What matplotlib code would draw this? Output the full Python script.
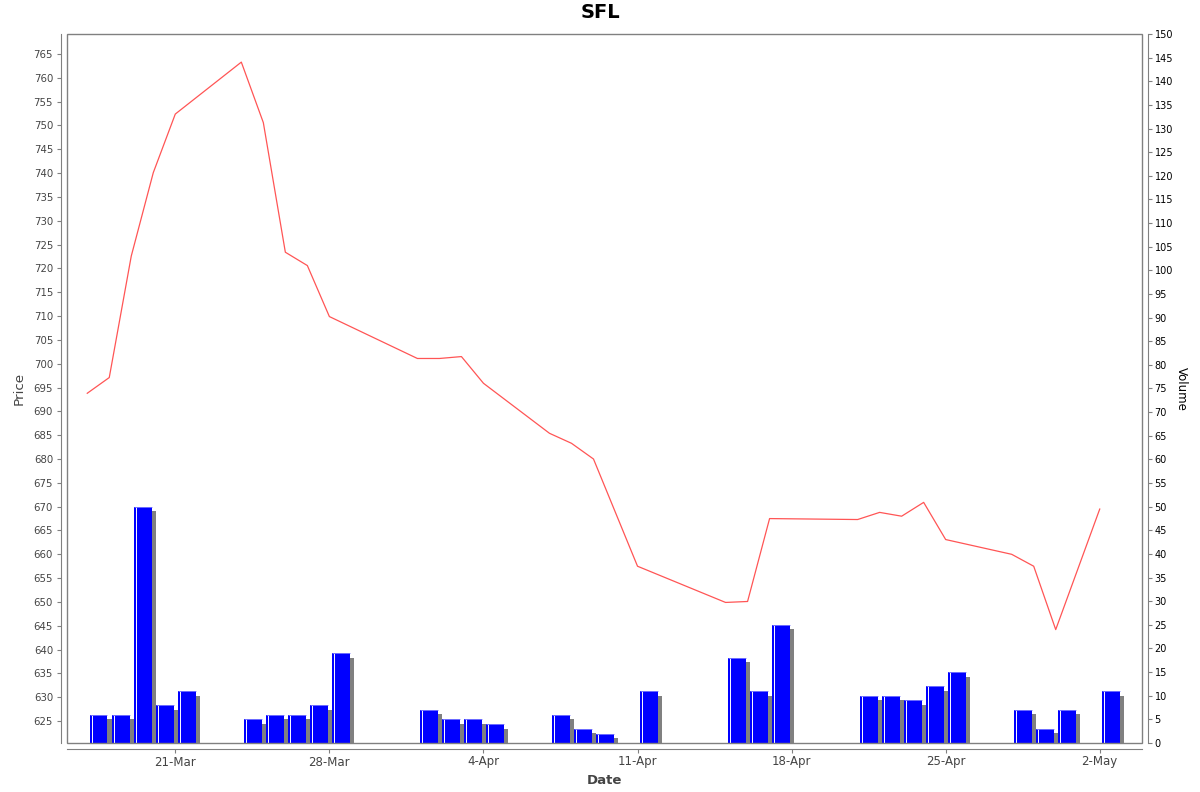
import numpy as np
import pandas as pd
import matplotlib
matplotlib.use('Agg')
import matplotlib.pyplot as plt
import matplotlib.dates as mdates
from matplotlib.patches import Rectangle
from matplotlib.transforms import ScaledTranslation


dates = ['2025-03-17', '2025-03-18', '2025-03-19', '2025-03-20', '2025-03-21',
         '2025-03-24', '2025-03-25', '2025-03-26', '2025-03-27', '2025-03-28',
         '2025-04-01', '2025-04-02', '2025-04-03', '2025-04-04',
         '2025-04-07', '2025-04-08', '2025-04-09', '2025-04-11',
         '2025-04-15', '2025-04-16', '2025-04-17',
         '2025-04-21', '2025-04-22', '2025-04-23', '2025-04-24', '2025-04-25',
         '2025-04-28', '2025-04-29', '2025-04-30', '2025-05-02']
close = [693.8, 697.1, 722.6, 740.1, 752.4,
         763.3, 750.6, 723.4, 720.6, 709.9,
         701.1, 701.1, 701.5, 695.9,
         685.4, 683.3, 680.0, 657.5,
         649.9, 650.1, 667.5,
         667.3, 668.8, 668.0, 670.9, 663.1,
         660.0, 657.5, 644.2, 669.5]
volume = [6, 6, 50, 8, 11,
          5, 6, 6, 8, 19,
          7, 5, 5, 4,
          6, 3, 2, 11,
          18, 11, 25,
          10, 10, 9, 12, 15,
          7, 3, 7, 11]

tick_dates = ['2025-03-21', '2025-03-28', '2025-04-04', '2025-04-11',
              '2025-04-18', '2025-04-25', '2025-05-02']
tick_labels = ['21-Mar', '28-Mar', '4-Apr', '11-Apr', '18-Apr', '25-Apr', '2-May']

x = mdates.date2num(pd.to_datetime(dates))
xt = mdates.date2num(pd.to_datetime(tick_dates))

axis_grey = '#808080'
text_grey = '#444444'

fig = plt.figure(figsize=(12, 7.92), dpi=100)
ax = fig.add_axes([67 / 1200, 49 / 792, 1075 / 1200, 709 / 792])
ax2 = ax.twinx()

# volume bars with drop shadow
px = lambda dx, dy: ScaledTranslation(dx / 100, dy / 100, fig.dpi_scale_trans)
ax2.bar(x + 0.12, volume, width=0.8, align='edge', color='#808080',
        transform=ax2.transData + px(4.5, -4.5), zorder=1)
ax2.bar(x + 0.12, volume, width=0.8, align='edge', color='#0000ff',
        linewidth=0, zorder=2)
ax2.vlines(x + 0.12, 0, volume, color='white', linewidth=0.7,
           transform=ax2.transData + px(1.8, 0), zorder=3)
ax2.hlines(volume, x + 0.12, x + 0.92, color='#8080ff', linewidth=0.6, zorder=3)

# price line
ax2.set_zorder(1)
ax.set_zorder(2)
ax.patch.set_visible(False)
ax.plot(x, close, color='#ff5555', linewidth=0.9)

ax.set_xlim(x[0] - 0.92, x[-1] + 1.92)
ax.set_ylim(620.4, 769.2)
ax2.set_ylim(0, 150)

ax.set_yticks(np.arange(625, 766, 5))
ax2.set_yticks(np.arange(0, 151, 5))
ax.set_xticks(xt)
ax.set_xticklabels(tick_labels)

for a in (ax, ax2):
    for s in a.spines.values():
        s.set_color(axis_grey)
        s.set_visible(False)

ax.spines['left'].set_visible(True)
ax.spines['left'].set_position(('outward', 4))
ax.spines['bottom'].set_visible(True)
ax.spines['bottom'].set_position(('outward', 4))
ax2.spines['right'].set_visible(True)
ax2.spines['right'].set_position(('outward', 4))

ax.add_patch(Rectangle((0, 0), 1, 1, transform=ax.transAxes, fill=False,
                       edgecolor=axis_grey, linewidth=1.0, clip_on=False, zorder=5))

ax.tick_params(axis='y', colors=axis_grey, labelcolor=text_grey, labelsize=7.3,
               length=3, width=0.8, pad=3)
ax.tick_params(axis='x', colors=axis_grey, labelcolor=text_grey, labelsize=8.5,
               length=3, width=0.8, pad=2)
ax2.tick_params(axis='y', colors=axis_grey, labelcolor='black', labelsize=7,
                length=3, width=0.8, pad=2)

ax.set_ylabel('Price', fontsize=9.7, color=text_grey, labelpad=6)
ax.set_xlabel('Date', fontsize=9.5, color=text_grey, fontweight='bold', labelpad=4)
ax2.set_ylabel('Volume', fontsize=8.5, color='black', rotation=270, labelpad=11)

fig.text(0.5, 1 - 12 / 792, 'SFL', ha='center', va='center',
         fontsize=14, fontweight='bold')

fig.savefig('out.png', dpi=100)
